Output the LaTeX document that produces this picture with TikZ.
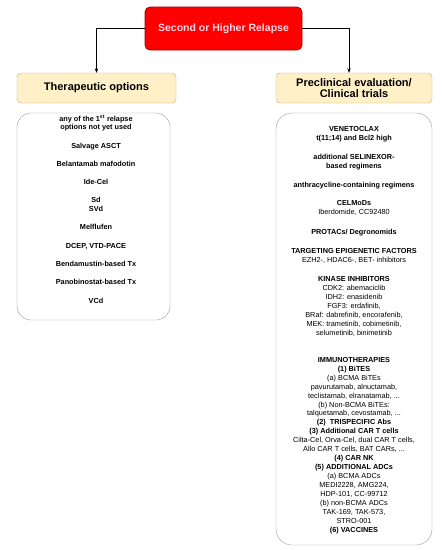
\documentclass[tikz,border=0pt]{standalone}
\usepackage{fontspec}
\setmainfont{Liberation Sans}
\usetikzlibrary{positioning,arrows.meta}
\definecolor{relapsered}{HTML}{FF0000}
\definecolor{relapseedge}{HTML}{A00000}
\definecolor{relapsetext}{HTML}{FFD8E6}
\definecolor{optfill}{HTML}{FFF0C8}
\definecolor{optedge}{HTML}{C8A878}
\definecolor{listedge}{HTML}{9A9A9A}
\begin{document}
\begin{tikzpicture}[x=1pt, y=1pt,
  font=\fontsize{7.3}{8.7}\selectfont,
  relapse/.style={draw=relapseedge, thick, fill=relapsered, rounded corners=5pt,
                  text=relapsetext, font=\fontsize{10.5}{12}\selectfont\bfseries,
                  minimum width=157pt, minimum height=43pt},
  header/.style={draw=optedge, fill=optfill, rounded corners=4pt, align=center,
                 font=\fontsize{11}{11.5}\selectfont\bfseries, minimum height=30pt},
  listbox/.style={draw=listedge, rounded corners=14pt},
  listtext/.style={align=center, anchor=north, inner sep=0pt},
  link/.style={-{Stealth[length=4.5pt, width=3.5pt]}, semithick}
]
  \path[use as bounding box] (0,0) rectangle (442,-550);

  \node[relapse] (relapse) at (223.5,-28.5) {Second or Higher Relapse};

  \node[header, minimum width=159pt] (therapy) at (96.5,-88) {Therapeutic options};
  \node[header, minimum width=156pt] (trials)  at (354,-88) {Preclinical evaluation/\\Clinical trials};

  \node[listbox, minimum width=153pt, minimum height=207pt] (optlist) at (93.5,-216.5) {};
  \node[listbox, rounded corners=16pt, minimum width=156pt, minimum height=432pt] (triallist) at (354,-329) {};

  \node[listtext, font=\fontsize{7.3}{8.7}\selectfont\bfseries] (opttext) at (96,-114.5)
    {any of the 1\textsuperscript{st} relapse\\options not yet used\\[9.6pt]
     Salvage ASCT\\[9.6pt]
     Belantamab mafodotin\\[9.6pt]
     Ide-Cel\\[9.6pt]
     Sd\\SVd\\[9.6pt]
     Melflufen\\[9.6pt]
     DCEP, VTD-PACE\\[9.6pt]
     Bendamustin-based Tx\\[9.6pt]
     Panobinostat-based Tx\\[9.6pt]
     VCd};

  \node[listtext, font=\fontsize{7.3}{8.95}\selectfont] (trialtext) at (354,-126.5)
    {\textbf{VENETOCLAX}\\\textbf{t(11;14) and Bcl2 high}\\[9.8pt]
     \textbf{additional SELINEXOR-}\\\textbf{based regimens}\\[9.8pt]
     \textbf{anthracycline-containing regimens}\\[9.8pt]
     \textbf{CELMoDs}\\Iberdomide, CC92480\\[10.3pt]
     \textbf{PROTACs/ Degronomids}\\[10.3pt]
     \textbf{TARGETING EPIGENETIC FACTORS}\\EZH2-, HDAC6-, BET- inhibitors\\[10.3pt]
     \textbf{KINASE INHIBITORS}\\CDK2: abemaciclib\\IDH2: enasidenib\\FGF3: erdafinib,\\
     BRaf: dabrefinib, encorafenib,\\MEK: trametinib, cobimetinib,\\selumetinib, binimetinib\\[18pt]
     \textbf{IMMUNOTHERAPIES}\\\textbf{(1) BiTES}\\(a) BCMA BiTEs\\pavurutamab, alnuctamab,\\
     teclistamab, elranatamab, ...\\(b) Non-BCMA BiTEs:\\talquetamab, cevostamab, ...\\
     \textbf{(2)\ \ TRISPECIFIC Abs}\\\textbf{(3) Additional CAR T cells}\\
     Cilta-Cel, Orva-Cel, dual CAR T cells,\\Allo CAR T cells, BAT CARs, ...\\
     \textbf{(4) CAR NK}\\\textbf{(5) ADDITIONAL ADCs}\\(a) BCMA ADCs\\MEDI2228, AMG224,\\
     HDP-101, CC-99712\\(b) non-BCMA ADCs\\TAK-169, TAK-573,\\STRO-001\\
     \textbf{(6) VACCINES}};

  \draw[link] (relapse.west) -| (therapy.north);
  \draw[link] (relapse.east) -| ([xshift=-5pt]trials.north);
\end{tikzpicture}
\end{document}
